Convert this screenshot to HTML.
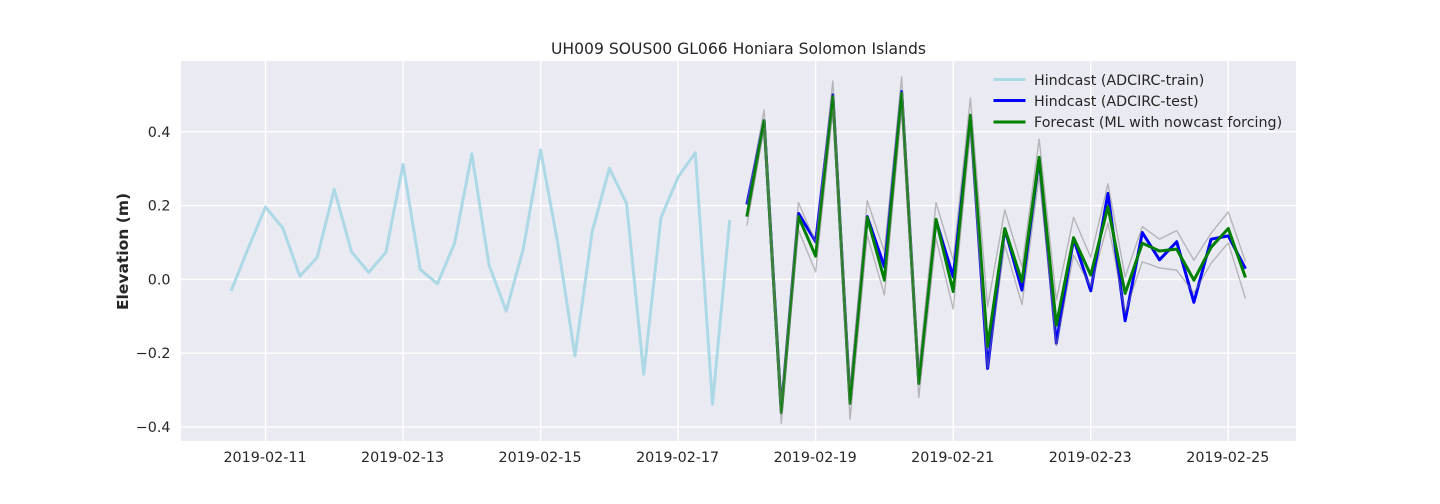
<!DOCTYPE html>
<html lang="en">
<head>
<meta charset="utf-8">
<title>UH009 SOUS00 GL066 Honiara Solomon Islands</title>
<style>
html,body{margin:0;padding:0;background:#fff;width:1440px;height:504px;overflow:hidden}
svg{display:block}
text{font-family:"DejaVu Sans","Liberation Sans",sans-serif;fill:#262626}
</style>
</head>
<body>
<svg id="chart" xmlns="http://www.w3.org/2000/svg" width="1440" height="504" viewBox="0 0 1440 504">
  <rect x="181" y="61" width="1115" height="380" fill="#eaeaf2"/>
  <g id="grid"></g>
  <g id="series"></g>
  <g id="xticks"></g>
  <g id="yticks"></g>
  <text x="738.5" y="54" text-anchor="middle" font-size="15.6">UH009 SOUS00 GL066 Honiara Solomon Islands</text>
  <text x="0" y="0" transform="translate(128 251.5) rotate(-90)" text-anchor="middle" font-size="15.5" font-weight="bold">Elevation (m)</text>
  <g>
    <g>
      <line x1="995" x2="1024" y1="79.5" y2="79.5" stroke="#add8e6" stroke-width="3" stroke-linecap="square"/>
      <text x="1034" y="85" font-size="14.25">Hindcast (ADCIRC-train)</text>
    </g>
    <g>
      <line x1="995" x2="1024" y1="100.5" y2="100.5" stroke="#0000ff" stroke-width="3" stroke-linecap="square"/>
      <text x="1034" y="106" font-size="14.25">Hindcast (ADCIRC-test)</text>
    </g>
    <g>
      <line x1="995" x2="1024" y1="122" y2="122" stroke="#008000" stroke-width="3" stroke-linecap="square"/>
      <text x="1034" y="127" font-size="14.25">Forecast (ML with nowcast forcing)</text>
    </g>
  </g>
</svg>
<script>
const trainTimes = [
  "02-10 12","02-10 18",
  "02-11 00","02-11 06","02-11 12","02-11 18",
  "02-12 00","02-12 06","02-12 12","02-12 18",
  "02-13 00","02-13 06","02-13 12","02-13 18",
  "02-14 00","02-14 06","02-14 12","02-14 18",
  "02-15 00","02-15 06","02-15 12","02-15 18",
  "02-16 00","02-16 06","02-16 12","02-16 18",
  "02-17 00","02-17 06","02-17 12","02-17 18"
];
const trainValues = [
  -0.031,0.085,
  0.196,0.140,0.009,0.059,
  0.244,0.075,0.019,0.073,
  0.312,0.027,-0.012,0.098,
  0.340,0.039,-0.086,0.084,
  0.351,0.098,-0.207,0.129,
  0.301,0.206,-0.257,0.167,
  0.277,0.343,-0.338,0.161
];
const testTimes = [
  "02-18 00","02-18 06","02-18 12","02-18 18",
  "02-19 00","02-19 06","02-19 12","02-19 18",
  "02-20 00","02-20 06","02-20 12","02-20 18",
  "02-21 00","02-21 06","02-21 12","02-21 18",
  "02-22 00","02-22 06","02-22 12","02-22 18",
  "02-23 00","02-23 06","02-23 12","02-23 18",
  "02-24 00","02-24 06","02-24 12","02-24 18",
  "02-25 00","02-25 06"
];
const testValues = [
  0.203,0.430,-0.355,0.179,
  0.102,0.500,-0.330,0.170,
  0.034,0.509,-0.280,0.160,
  0.007,0.440,-0.241,0.137,
  -0.029,0.328,-0.173,0.110,
  -0.031,0.233,-0.112,0.127,
  0.053,0.102,-0.062,0.109,
  0.118,0.029
];
const forecastValues = [
  0.170,0.430,-0.361,0.170,
  0.063,0.495,-0.336,0.168,
  -0.002,0.504,-0.282,0.163,
  -0.033,0.445,-0.182,0.138,
  -0.006,0.331,-0.124,0.113,
  0.012,0.197,-0.038,0.098,
  0.077,0.082,-0.002,0.087,
  0.138,0.005
];
const upperValues = [
  0.205,0.459,-0.330,0.208,
  0.100,0.538,-0.290,0.213,
  0.075,0.548,-0.240,0.208,
  0.053,0.492,-0.074,0.188,
  0.034,0.380,-0.056,0.168,
  0.060,0.259,0.007,0.143,
  0.109,0.132,0.052,0.125,
  0.183,0.048
];
const lowerValues = [
  0.146,0.410,-0.390,0.134,
  0.020,0.460,-0.379,0.120,
  -0.042,0.460,-0.320,0.112,
  -0.080,0.400,-0.240,0.093,
  -0.068,0.280,-0.180,0.066,
  -0.020,0.153,-0.090,0.048,
  0.031,0.025,-0.037,0.044,
  0.099,-0.052
];
const xTickLabels = ["2019-02-11","2019-02-13","2019-02-15","2019-02-17","2019-02-19","2019-02-21","2019-02-23","2019-02-25"];
const yTickValues = [-0.4,-0.2,0.0,0.2,0.4];

const SVG_NS = "http://www.w3.org/2000/svg";

function timeToDays(label) {
  const parts = label.split(/[- ]/);
  return (Date.UTC(2019, +parts[0] - 1, +parts[1], +parts[2]) - Date.UTC(2019, 1, 11)) / 86400000;
}
function xScale(days) {
  return 265.5 + days * 68.77;
}
function yScale(value) {
  return 279.4 - value * 369.1;
}
function pointsFor(times, values) {
  return values.map(function (v, i) {
    return xScale(timeToDays(times[i])).toFixed(2) + "," + yScale(v).toFixed(2);
  }).join(" ");
}
function makeLine(x1, x2, y1, y2) {
  const el = document.createElementNS(SVG_NS, "line");
  el.setAttribute("x1", x1);
  el.setAttribute("x2", x2);
  el.setAttribute("y1", y1);
  el.setAttribute("y2", y2);
  el.setAttribute("stroke", "#ffffff");
  el.setAttribute("stroke-width", "1.39");
  return el;
}
function makeText(x, y, anchor, content) {
  const el = document.createElementNS(SVG_NS, "text");
  el.setAttribute("x", x);
  el.setAttribute("y", y);
  el.setAttribute("text-anchor", anchor);
  el.setAttribute("font-size", "14.3");
  el.textContent = content;
  return el;
}
function makePolyline(times, values, color, width, opacity) {
  const el = document.createElementNS(SVG_NS, "polyline");
  el.setAttribute("points", pointsFor(times, values));
  el.setAttribute("fill", "none");
  el.setAttribute("stroke", color);
  el.setAttribute("stroke-width", width);
  el.setAttribute("stroke-linejoin", "round");
  el.setAttribute("stroke-opacity", opacity);
  return el;
}

const gridGroup = document.getElementById("grid");
const xTickGroup = document.getElementById("xticks");
const yTickGroup = document.getElementById("yticks");
const seriesGroup = document.getElementById("series");

xTickLabels.forEach(function (label) {
  const days = (Date.parse(label + "T00:00:00Z") - Date.UTC(2019, 1, 11)) / 86400000;
  const px = xScale(days);
  const gridLine = makeLine(px, px, 61, 441);
  
  
  gridGroup.appendChild(gridLine);
  const tick = makeText(px - 0.5, 462, "middle", label);
  
  
  xTickGroup.appendChild(tick);
});

yTickValues.forEach(function (value) {
  const py = yScale(value);
  const gridLine = makeLine(181, 1296, py, py);
  
  
  gridGroup.appendChild(gridLine);
  const label = value.toFixed(1).replace("-", "\u2212");
  const tick = makeText(170.5, py + 5, "end", label);
  
  
  yTickGroup.appendChild(tick);
});

const trainLine = makePolyline(trainTimes, trainValues, "#add8e6", 3, 1);


seriesGroup.appendChild(trainLine);

const testLine = makePolyline(testTimes, testValues, "#0000ff", 3, 1);


seriesGroup.appendChild(testLine);

const forecastLine = makePolyline(testTimes, forecastValues, "#008000", 3, 1);


seriesGroup.appendChild(forecastLine);

const upperLine = makePolyline(testTimes, upperValues, "#808080", 1.39, 0.5);


seriesGroup.appendChild(upperLine);

const lowerLine = makePolyline(testTimes, lowerValues, "#808080", 1.39, 0.5);


seriesGroup.appendChild(lowerLine);
</script>
</body>
</html>
